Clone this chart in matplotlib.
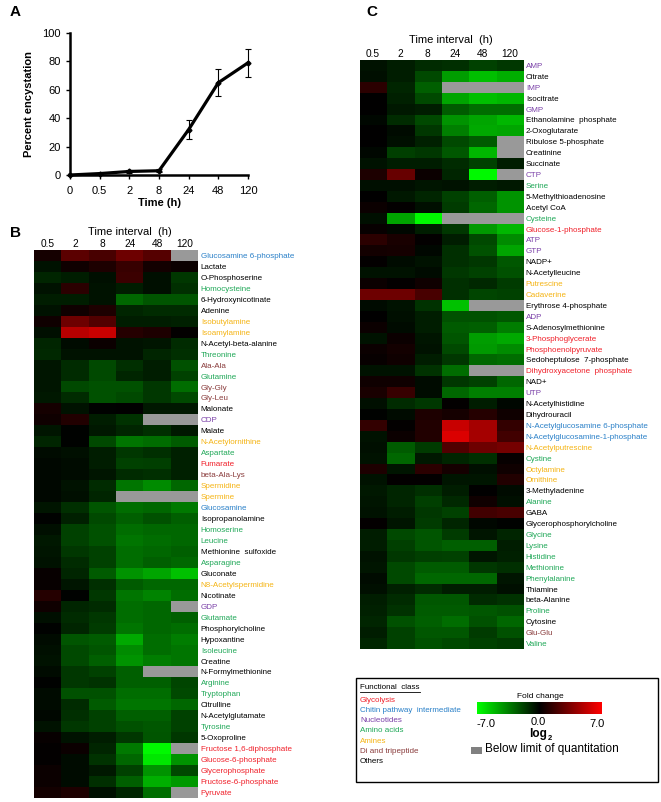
import numpy as np
import matplotlib
matplotlib.use('Agg')
import matplotlib.pyplot as plt
from matplotlib.colors import LinearSegmentedColormap
from matplotlib.patches import Rectangle
from matplotlib.lines import Line2D

plt.rcParams['font.family'] = ['Liberation Sans', 'DejaVu Sans']

# ---------------- data ----------------
time_labels = ['0', '0.5', '2', '8', '24', '48', '120']
encystation = [0, 1.0, 2.5, 3.0, 32, 65, 79]
encystation_err = [0, 0.5, 1.0, 1.0, 6.5, 9.5, 10]

intervals = ['0.5', '2', '8', '24', '48', '120']

b_names = ['Glucosamine 6-phosphate', 'Lactate', 'O-Phosphoserine', 'Homocysteine',
           '6-Hydroxynicotinate', 'Adenine', 'Isobutylamine', 'Isoamylamine',
           'N-Acetyl-beta-alanine', 'Threonine', 'Ala-Ala', 'Glutamine', 'Gly-Gly',
           'Gly-Leu', 'Malonate', 'CDP', 'Malate', 'N-Acetylornithine', 'Aspartate',
           'Fumarate', 'beta-Ala-Lys', 'Spermidine', 'Spermine', 'Glucosamine',
           'Isopropanolamine', 'Homoserine', 'Leucine', 'Methionine  sulfoxide',
           'Asparagine', 'Gluconate', 'N8-Acetylspermidine', 'Nicotinate', 'GDP',
           'Glutamate', 'Phosphorylcholine', 'Hypoxantine', 'Isoleucine', 'Creatine',
           'N-Formylmethionine', 'Arginine', 'Tryptophan', 'Citrulline',
           'N-Acetylglutamate', 'Tyrosine', '5-Oxoproline', 'Fructose 1,6-diphosphate',
           'Glucose-6-phosphate', 'Glycerophosphate', 'Fructose-6-phosphate', 'Pyruvate']
b_class = ['C', 'O', 'O', 'A', 'O', 'O', 'M', 'M', 'O', 'A', 'D', 'A', 'D', 'D', 'O', 'N',
           'O', 'M', 'A', 'G', 'D', 'M', 'M', 'C', 'O', 'A', 'A', 'O', 'A', 'O', 'M', 'O',
           'N', 'A', 'O', 'O', 'A', 'O', 'O', 'A', 'A', 'O', 'O', 'A', 'O', 'G', 'G', 'G',
           'G', 'G']
nan = np.nan
b_values = [
    [0.6, 2.5, 2.0, 3.0, 2.3, nan],
    [-0.5, 0.4, 0.8, 1.5, 0.5, 0.3],
    [-1.0, -0.8, -0.4, 1.6, -0.4, -1.5],
    [-0.5, 1.2, -0.5, -0.8, -0.4, -1.3],
    [-0.8, -0.8, -0.5, -2.8, -2.3, -2.3],
    [-0.5, 0.4, 0.8, -1.0, -1.2, -1.2],
    [0.4, 3.0, 2.2, -0.8, -0.8, -0.9],
    [-0.4, 5.0, 5.5, 1.0, 0.8, 0.1],
    [-1.0, -0.3, 0.3, -0.5, -0.6, -1.2],
    [-1.1, -0.5, -0.5, -0.5, -1.0, -1.3],
    [-0.6, -1.2, -2.0, -1.3, -0.8, -2.2],
    [-0.6, -1.2, -2.0, -1.0, -0.8, -1.8],
    [-0.6, -2.0, -2.2, -2.2, -1.5, -3.0],
    [-0.7, -1.2, -2.2, -2.0, -1.5, -2.0],
    [0.6, -0.5, -0.1, 0.0, -0.7, -0.7],
    [0.4, 0.9, -0.8, -1.4, nan, nan],
    [-0.6, -0.1, -0.7, -1.0, -1.3, -0.7],
    [-1.0, -0.1, -2.0, -3.2, -3.0, -2.5],
    [-0.3, -0.4, -0.8, -1.5, -1.3, -0.9],
    [-0.2, -0.3, -0.8, -1.8, -1.7, -0.9],
    [-0.2, -0.3, -0.6, -1.2, -1.3, -0.9],
    [-0.2, -0.5, -1.2, -3.2, -3.8, -2.8],
    [-0.2, -0.4, -1.0, nan, nan, nan],
    [-0.6, -1.3, -2.3, -3.0, -2.8, -3.3],
    [-0.1, -0.9, -2.0, -2.6, -2.2, -2.6],
    [-0.4, -1.8, -2.2, -3.0, -2.8, -2.8],
    [-0.7, -1.8, -2.2, -3.2, -3.0, -2.8],
    [-0.6, -1.5, -1.8, -3.0, -2.8, -2.6],
    [-0.5, -1.2, -1.8, -3.0, -2.6, -2.8],
    [0.2, -1.0, -2.5, -4.0, -4.5, -5.3],
    [0.2, -0.6, -1.3, -2.5, -2.8, -2.8],
    [1.0, -0.1, -1.5, -3.2, -3.6, -3.0],
    [0.4, -1.0, -1.2, -3.0, -2.8, nan],
    [-0.4, -1.2, -1.5, -3.0, -2.8, -2.6],
    [-0.1, -1.0, -1.6, -3.2, -2.8, -3.0],
    [-0.3, -2.3, -2.5, -4.6, -3.0, -3.4],
    [-0.4, -2.0, -2.3, -3.8, -3.0, -3.2],
    [-0.5, -2.0, -2.6, -4.0, -3.4, -3.2],
    [-0.3, -1.5, -1.8, -2.6, nan, nan],
    [-0.1, -1.5, -1.4, -2.6, -2.6, -1.9],
    [-0.3, -2.2, -2.2, -3.0, -3.0, -2.0],
    [-0.3, -1.2, -2.5, -3.2, -3.2, -2.8],
    [-0.2, -1.3, -1.8, -2.6, -2.6, -1.8],
    [-0.5, -1.5, -1.8, -2.2, -2.4, -1.8],
    [0.2, -0.5, -0.8, -1.5, -2.3, -1.5],
    [0.1, 0.3, -1.0, -3.3, -6.8, nan],
    [0.1, -0.3, -1.4, -2.8, -6.3, -4.0],
    [0.3, -0.3, -0.7, -1.8, -4.0, -2.0],
    [0.3, -0.3, -1.3, -2.6, -4.8, -4.2],
    [0.5, 0.8, -0.4, -1.0, -3.0, nan],
]

c_names = ['AMP', 'Citrate', 'IMP', 'Isocitrate', 'GMP', 'Ethanolamine  phosphate',
           '2-Oxoglutarate', 'Ribulose 5-phosphate', 'Creatinine', 'Succinate', 'CTP',
           'Serine', '5-Methylthioadenosine', 'Acetyl CoA', 'Cysteine',
           'Glucose-1-phosphate', 'ATP', 'GTP', 'NADP+', 'N-Acetylleucine', 'Putrescine',
           'Cadaverine', 'Erythrose 4-phosphate', 'ADP', 'S-Adenosylmethionine',
           '3-Phosphoglycerate', 'Phosphoenolpyruvate', 'Sedoheptulose  7-phosphate',
           'Dihydroxyacetone  phosphate', 'NAD+', 'UTP', 'N-Acetylhistidine',
           'Dihydrouracil', 'N-Acetylglucosamine 6-phosphate',
           'N-Acetylglucosamine-1-phosphate', 'N-Acetylputrescine', 'Cystine',
           'Octylamine', 'Ornithine', '3-Methyladenine', 'Alanine', 'GABA',
           'Glycerophosphorylcholine', 'Glycine', 'Lysine', 'Histidine', 'Methionine',
           'Phenylalanine', 'Thiamine', 'beta-Alanine', 'Proline', 'Cytosine', 'Glu-Glu',
           'Valine']
c_class = ['N', 'O', 'N', 'O', 'N', 'O', 'O', 'O', 'O', 'O', 'N', 'A', 'O', 'O', 'A', 'G',
           'N', 'N', 'O', 'O', 'M', 'M', 'O', 'N', 'O', 'G', 'G', 'O', 'G', 'O', 'N', 'O',
           'O', 'C', 'C', 'M', 'A', 'M', 'M', 'O', 'A', 'O', 'O', 'A', 'A', 'A', 'A', 'A',
           'O', 'O', 'A', 'O', 'D', 'A']
c_values = [
    [-0.5, -0.8, -1.2, -1.3, -1.8, -1.5],
    [-0.4, -0.8, -2.0, -4.3, -5.2, -4.8],
    [1.2, -1.0, -2.6, nan, nan, nan],
    [0.0, -0.9, -2.0, -4.5, -5.2, -5.0],
    [0.0, -0.7, -0.8, -2.5, -3.0, -3.0],
    [-0.2, -1.2, -2.0, -4.0, -4.5, -5.0],
    [0.0, -0.3, -1.5, -3.5, -4.6, -4.5],
    [0.0, -0.4, -0.9, -2.0, -2.5, nan],
    [-0.2, -1.7, -1.5, -2.4, -5.0, nan],
    [-0.5, -0.8, -0.8, -1.2, -1.8, -0.8],
    [0.8, 2.8, 0.3, -1.0, -6.8, nan],
    [-0.4, -0.4, -0.6, -0.5, -0.8, -0.7],
    [0.0, -0.7, -1.0, -1.8, -2.6, -4.0],
    [0.3, 0.1, -0.4, -1.6, -2.8, -4.0],
    [-0.4, -4.5, -6.8, nan, nan, nan],
    [0.2, -0.2, -0.8, -1.5, -4.2, -5.0],
    [1.2, 0.7, 0.1, -0.8, -2.0, -3.8],
    [0.5, 0.6, -0.2, -1.3, -2.2, -4.5],
    [0.1, -0.3, -0.5, -1.3, -1.5, -2.4],
    [-0.5, -0.5, -0.3, -1.5, -1.8, -2.2],
    [0.3, 0.1, 0.4, -1.3, -1.1, -1.6],
    [3.0, 3.0, 2.0, -1.3, -1.9, -1.8],
    [-0.3, -0.5, -1.4, -5.3, nan, nan],
    [0.0, -0.4, -0.8, -2.2, -2.2, -2.4],
    [0.3, -0.3, -0.8, -2.5, -2.6, -3.4],
    [-0.5, 0.3, -0.6, -2.3, -4.3, -4.6],
    [0.3, 0.5, -0.5, -2.0, -4.2, -3.8],
    [0.2, 0.4, -0.8, -1.5, -2.8, -3.0],
    [-0.5, -0.5, -1.4, -3.0, nan, nan],
    [0.4, 0.4, -0.3, -1.5, -1.8, -2.8],
    [0.7, 1.5, -0.3, -2.8, -3.5, -3.5],
    [-0.4, -1.2, -1.5, 0.1, -0.8, -0.2],
    [-0.1, -0.3, 0.8, 0.6, 1.0, 0.4],
    [1.4, 0.1, 0.9, 5.5, 4.5, 1.4],
    [-0.5, 0.3, 0.9, 6.0, 4.5, 1.8],
    [-0.4, -2.5, -1.6, 2.2, 3.0, 3.2],
    [-0.5, -2.8, -0.7, -1.0, -1.3, 0.2],
    [0.8, -0.6, 1.2, 0.6, -0.4, 0.4],
    [-0.5, 0.1, 0.1, -0.6, -0.6, 0.9],
    [-0.7, -1.0, -1.3, -0.8, 0.0, -0.3],
    [-0.6, -1.0, -1.7, -1.1, 0.4, -0.4],
    [-0.5, -0.8, -1.5, -1.8, 1.8, 2.0],
    [0.1, -0.6, -1.6, -1.0, -0.2, -0.1],
    [-0.8, -2.0, -2.3, -1.6, -0.6, -1.0],
    [-0.8, -1.7, -2.3, -2.6, -2.6, -0.8],
    [-0.5, -1.5, -1.7, -1.8, -0.6, -0.9],
    [-0.6, -2.0, -2.5, -2.5, -1.5, -1.3],
    [-0.3, -2.0, -2.8, -2.8, -2.8, -0.6],
    [-0.4, -0.9, -1.2, -0.8, -0.8, -0.4],
    [-0.8, -1.2, -2.4, -2.4, -1.2, -1.4],
    [-0.9, -1.4, -2.5, -2.5, -2.4, -2.2],
    [-1.0, -2.2, -2.6, -3.0, -2.2, -2.8],
    [-0.8, -1.8, -2.4, -2.4, -1.6, -2.2],
    [-1.0, -1.8, -2.2, -2.0, -1.8, -1.6],
]

class_labels = ['Glycolysis', 'Chitin pathway  intermediate', 'Nucleotides', 'Amino acids',
                'Amines', 'Di and tripeptide', 'Others']
class_codes = ['G', 'C', 'N', 'A', 'M', 'D', 'O']
class_colors = {'G': '#f0202a', 'C': '#2a80c8', 'N': '#7a40a8', 'A': '#20a858',
                'M': '#f5b414', 'D': '#8a3c3c', 'O': '#000000'}

# ---------------- figure ----------------
W, H = 661, 802
fig = plt.figure(figsize=(W / 100, H / 100), dpi=100)


def box(l, t, r, b):
    return [l / W, 1 - b / H, (r - l) / W, (b - t) / H]


cmap = LinearSegmentedColormap.from_list('gkr', ['#00ff00', '#000000', '#ff0000'])
cmap.set_bad('#999999')

# Panel A
axa = fig.add_axes(box(70, 33, 248, 175))
xa = np.arange(len(time_labels))
axa.errorbar(xa, encystation, yerr=encystation_err, color='black', lw=2.3,
             marker='D', ms=2.5, capsize=2.5, elinewidth=0.8, capthick=0.8, clip_on=False)
axa.set_xlim(0, len(time_labels) - 1)
axa.set_ylim(0, 100)
axa.set_yticks(np.arange(0, 101, 20))
axa.set_xticks(xa)
axa.set_xticklabels(time_labels)
for s in ['top', 'right']:
    axa.spines[s].set_visible(False)
for s in ['left', 'bottom']:
    axa.spines[s].set_linewidth(1.8)
axa.tick_params(axis='both', labelsize=8, width=1, length=3)
axa.tick_params(axis='x', pad=5)
axa.set_ylabel('Percent encystation', fontsize=8, fontweight='bold', labelpad=6)
axa.set_xlabel('Time (h)', fontsize=8, fontweight='bold', labelpad=1)
fig.text(10 / W, 1 - 12 / H, 'A', fontsize=11, fontweight='bold', va='center', ha='left')
fig.text(10 / W, 1 - 233 / H, 'B', fontsize=11, fontweight='bold', va='center', ha='left')
fig.text(366 / W, 1 - 12 / H, 'C', fontsize=11, fontweight='bold', va='center', ha='left')


def heatmap(rect, values, names, classes, title_x, title_y):
    ax = fig.add_axes(rect)
    data = np.ma.masked_invalid(np.array(values, dtype=float))
    ax.imshow(data, cmap=cmap, vmin=-7, vmax=7, aspect='auto', interpolation='nearest')
    ax.set_xticks(range(len(intervals)))
    ax.set_xticklabels(intervals, fontsize=7.3)
    ax.xaxis.tick_top()
    ax.set_yticks(range(len(names)))
    ax.set_yticklabels(names, fontsize=5.8)
    ax.yaxis.tick_right()
    ax.tick_params(axis='both', length=0)
    ax.tick_params(axis='y', pad=2)
    ax.tick_params(axis='x', pad=1)
    for lab, c in zip(ax.get_yticklabels(), classes):
        lab.set_color(class_colors[c])
    for s in ax.spines.values():
        s.set_visible(False)
    fig.text(title_x / W, 1 - title_y / H, 'Time interval  (h)', fontsize=8,
             ha='center', va='center')
    return ax


heatmap(box(34, 250, 198, 798), b_values, b_names, b_class, 130, 232)
heatmap(box(359.5, 60, 523, 649), c_values, c_names, c_class, 451, 40)

# Legend box
fig.add_artist(Rectangle((356 / W, 1 - 782 / H), (658 - 356) / W, (782 - 678) / H,
                         transform=fig.transFigure, fill=False, edgecolor='black', lw=1))
fig.text(360 / W, 1 - 687.5 / H, 'Functional  class', fontsize=5.8, va='center', ha='left')
fig.add_artist(Line2D([360 / W, 420 / W], [1 - 692 / H, 1 - 692 / H],
                      transform=fig.transFigure, color='black', lw=0.6))
for i, (lab, code) in enumerate(zip(class_labels, class_codes)):
    fig.text(360 / W, 1 - (700 + i * 10.3) / H, lab, fontsize=5.8,
             color=class_colors[code], va='center', ha='left')

cax = fig.add_axes(box(477, 702, 602, 714))
grad = np.linspace(-7, 7, 256).reshape(1, -1)
cax.imshow(grad, cmap=cmap, vmin=-7, vmax=7, aspect='auto')
cax.set_axis_off()
fig.text(540 / W, 1 - 697 / H, 'Fold change', fontsize=6, ha='center', va='center')
fig.text(486 / W, 1 - 724 / H, '-7.0', fontsize=8, ha='center', va='center')
fig.text(538 / W, 1 - 722 / H, '0.0', fontsize=8, ha='center', va='center')
fig.text(597 / W, 1 - 724 / H, '7.0', fontsize=8, ha='center', va='center')
fig.text(538 / W, 1 - 734.5 / H, 'log', fontsize=8.5, fontweight='bold', ha='center',
         va='center')
fig.text(548 / W, 1 - 738 / H, '2', fontsize=5.5, fontweight='bold', ha='left', va='center')
fig.add_artist(Rectangle((471 / W, 1 - 753.5 / H), 11 / W, 6.5 / H,
                         transform=fig.transFigure, facecolor='#808080', edgecolor='none'))
fig.text(485 / W, 1 - 749 / H, 'Below limit of quantitation', fontsize=8.5,
         ha='left', va='center')

fig.savefig('out.png', dpi=100)
